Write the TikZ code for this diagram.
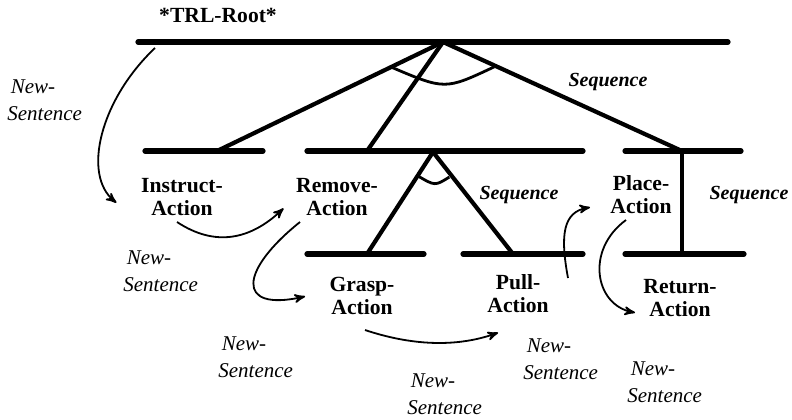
\documentclass[tikz,border=0pt]{standalone}
\usepackage{fontspec}
\setmainfont{Liberation Serif}
\usetikzlibrary{arrows}

\tikzset{
  bar/.style={line width=2.6pt, line cap=round},
  branch/.style={line width=2.1pt},
  seqarc/.style={line width=1.4pt},
  link/.style={->, line width=0.9pt},
  act/.style={font=\fontsize{10.8}{11.5}\selectfont\bfseries, align=center, inner sep=0pt},
  seq/.style={font=\fontsize{10}{11}\selectfont\bfseries\itshape, inner sep=0pt},
  ns/.style={font=\fontsize{10.5}{13.5}\selectfont\itshape, align=left, inner sep=0pt, anchor=west},
}

\begin{document}
\begin{tikzpicture}[x=0.5pt,y=-0.5pt,>=stealth',shorten >=1pt]
    \useasboundingbox (0,0) rectangle (792,419);

    % joints
    \coordinate (root)    at (443,42);
    \coordinate (instrJ)  at (217,151);
    \coordinate (removeJ) at (367,151);
    \coordinate (removeT) at (433,152);
    \coordinate (placeJ)  at (682,151);
    \coordinate (graspJ)  at (367,254);
    \coordinate (pullJ)   at (513,254);
    \coordinate (returnJ) at (682,254);

    % bars
    \draw[bar] (138,42) -- (730,42);
    \draw[bar] (145,151) -- (265,151);
    \draw[bar] (307,151) -- (585,151);
    \draw[bar] (625,151) -- (743,151);
    \draw[bar] (307,254) -- (426,254);
    \draw[bar] (463,254) -- (585,254);
    \draw[bar] (625,254) -- (746,254);

    % tree
    \path[branch]
      (root)    edge (instrJ)
                edge (removeJ)
                edge (placeJ)
      (removeT) edge (graspJ)
                edge (pullJ)
      (placeJ)  edge (returnJ);

    \draw[seqarc] (391,67) .. controls (445,90) .. (496,66);
    \draw[seqarc] (418,176) .. controls (435,186) .. (451,176);

    % labels
    \node[act] (trl)    at (218,15)  {*TRL-Root*};
    \node[act] (instr)  at (182,197) {Instruct-\\Action};
    \node[act] (remove) at (337,197) {Remove-\\Action};
    \node[act] (place)  at (641,195) {Place-\\Action};
    \node[act] (grasp)  at (362,296) {Grasp-\\Action};
    \node[act] (pull)   at (518,294) {Pull-\\Action};
    \node[act] (return) at (680,298) {Return-\\Action};

    \node[seq] (seqa) at (608,82)  {Sequence};
    \node[seq] (seqb) at (519,195) {Sequence};
    \node[seq] (seqc) at (749,195) {Sequence};

    \node[ns] (ns1) at (7,100)   {\,New-\\Sentence};
    \node[ns] (ns2) at (123,271) {\,New-\\Sentence};
    \node[ns] (ns3) at (218,357) {\,New-\\Sentence};
    \node[ns] (ns4) at (407,394) {\,New-\\Sentence};
    \node[ns] (ns5) at (523,359) {\,New-\\Sentence};
    \node[ns] (ns6) at (627,382) {\,New-\\Sentence};

    % new-sentence links
    \coordinate (a1) at (155,48);  \coordinate (b1) at (118,204);
    \coordinate (a2) at (177,222); \coordinate (b2) at (285,207);
    \coordinate (a3) at (300,222); \coordinate (b3) at (307,296);
    \coordinate (a4) at (365,330); \coordinate (b4) at (500,332);
    \coordinate (a5) at (568,278); \coordinate (b5) at (592,207);
    \coordinate (a6) at (626,220); \coordinate (b6) at (637,313);

    \draw[link] (a1) .. controls (100,100) and (82,175) .. (b1);
    \draw[link] (a2) .. controls (215,247) and (250,240) .. (b2);
    \draw[link] (a3) .. controls (240,270) and (235,312) .. (b3);
    \draw[link] (a4) .. controls (410,345) and (455,348) .. (b4);
    \draw[link] (a5) .. controls (560,235) and (563,212) .. (b5);
    \draw[link] (a6) .. controls (585,250) and (595,305) .. (b6);
\end{tikzpicture}
\end{document}
